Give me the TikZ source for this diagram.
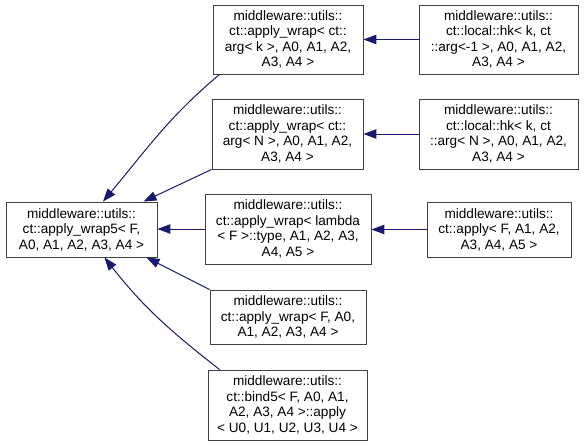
\documentclass[tikz,border=0pt]{standalone}
\usepackage{fontspec}
\setmainfont{Liberation Sans}
\usepackage{tikz}
\usetikzlibrary{arrows.meta}
\definecolor{EdgeBlue}{RGB}{25,25,112}

\begin{document}
\begin{tikzpicture}[x=1pt, y=1pt,
            cls/.style={draw=black!75, line width=0.9pt, fill=white, align=center, inner sep=0pt, font=\fontsize{13.6}{15.5}\selectfont},
            inherit/.style={draw=EdgeBlue, line width=1pt, -{Triangle[length=13pt,width=9.5pt]}}
        ]
            \useasboundingbox (0,0) rectangle (584,-445);

            % Base class
            \node (base) at (81.5,-229.5) [cls, minimum width=151pt, minimum height=55pt] {middleware::utils::\\ct::apply\_wrap5< F,\\A0, A1, A2, A3, A4 >};

            % Middle column
            \node (wrapK) at (288,-39.5) [cls, minimum width=150pt, minimum height=69pt] {middleware::utils::\\ct::apply\_wrap< ct::\\arg< k >, A0, A1, A2,\\A3, A4 >};
            \node (wrapN) at (287.5,-134) [cls, minimum width=151pt, minimum height=70pt] {middleware::utils::\\ct::apply\_wrap< ct::\\arg< N >, A0, A1, A2,\\A3, A4 >};
            \node (wrapLambda) at (288,-229) [cls, minimum width=166pt, minimum height=70pt] {middleware::utils::\\ct::apply\_wrap< lambda\\< F >::type, A1, A2, A3,\\A4, A5 >};
            \node (wrapF) at (288,-317) [cls, minimum width=156pt, minimum height=54pt] {middleware::utils::\\ct::apply\_wrap< F, A0,\\A1, A2, A3, A4 >};
            \node (bindApply) at (287.5,-405) [cls, minimum width=159pt, minimum height=70pt] {middleware::utils::\\ct::bind5< F, A0, A1,\\A2, A3, A4 >::apply\\< U0, U1, U2, U3, U4 >};

            % Right column
            \node (hkK) at (498.5,-39.5) [cls, minimum width=159pt, minimum height=69pt] {middleware::utils::\\ct::local::hk< k, ct\\::arg<-1 >, A0, A1, A2,\\A3, A4 >};
            \node (hkN) at (498.5,-134) [cls, minimum width=159pt, minimum height=70pt] {middleware::utils::\\ct::local::hk< k, ct\\::arg< N >, A0, A1, A2,\\A3, A4 >};
            \node (applyF) at (499,-229.5) [cls, minimum width=144pt, minimum height=55pt] {middleware::utils::\\ct::apply< F, A1, A2,\\A3, A4, A5 >};

            % Inheritance towards the base
            \draw [inherit] ([xshift=7pt]wrapK.south west) to[out=220, in=50] ([xshift=21.5pt]base.north);
            \draw [inherit] (wrapN.south west) -- ([xshift=62pt]base.north);
            \draw [inherit] (wrapLambda.west) -- (wrapLambda.west -| base.east);
            \draw [inherit] (wrapF.north west) -- ([xshift=65pt]base.south);
            \draw [inherit] ([xshift=12pt]bindApply.north west) to[out=142, in=-52] ([xshift=23pt]base.south);

            % Inheritance in the middle column
            \draw [inherit] (hkK.west) -- (wrapK.east);
            \draw [inherit] (hkN.west) -- (wrapN.east);
            \draw [inherit] (applyF.west) -- (applyF.west -| wrapLambda.east);
        \end{tikzpicture}
\end{document}
